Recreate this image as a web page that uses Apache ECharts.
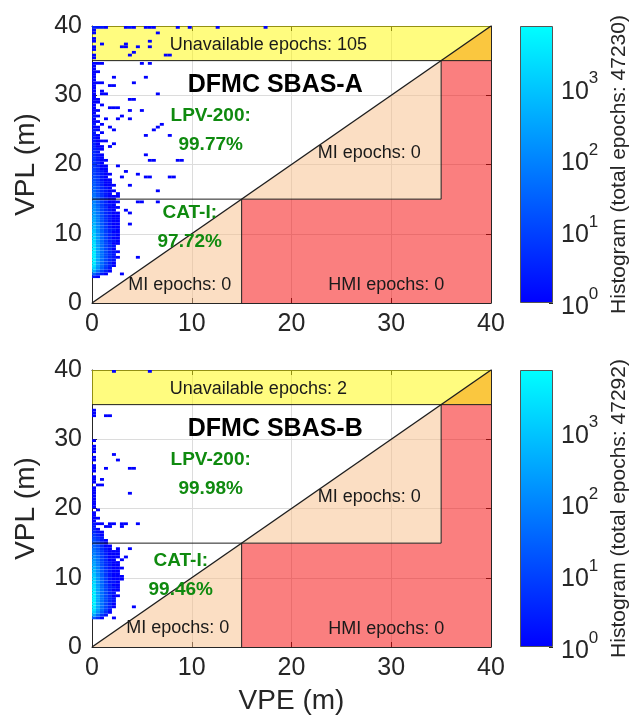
<!DOCTYPE html>
<html><head><meta charset="utf-8">
<script src="https://cdn.jsdelivr.net/npm/echarts@6/dist/echarts.min.js"></script>
<style>html,body{margin:0;padding:0;background:#fff}#c{width:641px;height:724px}</style>
</head><body><div id="c"></div>
<script>
// ---------------- data ----------------
const AXIS_TICKS = [0, 10, 20, 30, 40];
const BIN = 0.4;                 // histogram bin size (m)
const CB_MAX = 3.85;             // log10 of the top of the colour bar
const CB_TICKS = [0, 1, 2, 3];   // 10^0 .. 10^3
const TOTAL_A = 47230, TOTAL_B = 47292;

// rows: [VPL bin lower edge, counts per VPE bin starting at 0]
const ROWS_A = [
 [3.6,[2,1]],[4.0,[30,8,2,1]],[4.4,[380,50,10,3,1]],[4.8,[1400,150,28,6,2]],
 [5.2,[2500,220,40,9,3,1]],[5.6,[3300,270,48,11,3,1]],[6.0,[3800,300,52,12,4,2]],
 [6.4,[4000,310,55,13,4,2,1]],[6.8,[3900,310,55,13,5,2]],[7.2,[3600,300,52,13,4,2,1]],
 [7.6,[3200,280,50,12,4,1]],[8.0,[2700,260,47,12,4,2]],[8.4,[2300,240,44,11,4,1,1]],
 [8.8,[1900,220,41,10,3,2,1]],[9.2,[1550,200,38,10,3,1,1]],[9.6,[1250,180,35,9,3,2,1]],
 [10.0,[1000,160,32,8,3,1,1]],[10.4,[800,140,29,8,3,2,1]],[10.8,[640,125,26,7,2,1,1]],
 [11.2,[510,110,23,6,2,1,1]],[11.6,[410,95,20,6,2,1,1]],[12.0,[330,82,18,5,2,1,1]],
 [12.4,[260,70,16,5,2,1,1]],[12.8,[210,60,14,4,2,1,1]],[13.2,[170,50,12,4,2,1]],
 [13.6,[135,42,10,4,1,1,1]],[14.0,[110,35,9,3,2,1]],[14.4,[88,30,8,3,1,1,1]],
 [14.8,[70,25,7,3,1,1]],[15.2,[56,20,6,2,1,1,1]],[15.6,[45,17,5,2,1,0,1]],
 [16.0,[36,14,4,2,1,1]],[16.4,[29,12,4,2,1]],[16.8,[24,10,3,1,1,1]],[17.2,[19,8,3,1,1]],
 [17.6,[15,7,2,1,1]],[18.0,[12,6,2,1]],[18.4,[10,5,2,1,1]],[18.8,[9,4,2,1]],
 [19.2,[8,4,1,1]],[19.6,[7,3,1,1]],[20.0,[6,3,1]],[20.4,[5,2,1,1]],[20.8,[5,2,1]],
 [21.2,[4,2,1]],[21.6,[4,2]],[22.0,[3,2,1]],[22.4,[3,1,1]],[22.8,[3,1]],[23.2,[2,1,1]],
 [23.6,[2,1]],[24.0,[2,1]],[24.4,[2,0,1]],[24.8,[2,1]],[25.2,[1,1]],[25.6,[2,0,1]],
 [26.0,[1,1]],[26.4,[1]],[26.8,[2,1]],[27.2,[1]],[27.6,[1,1]],[28.0,[1]],[28.4,[1,0,1]],
 [28.8,[1,1]],[29.2,[1,1]],[29.6,[1]],[30.0,[1]],[30.4,[1,0,1]],[30.8,[1]],[31.2,[1]],
 [31.6,[1]],[32.0,[1]],[32.4,[1]],[32.8,[1]],[33.2,[1,1]],[33.6,[1]],[34.0,[1]],
 [34.4,[1,1,1]]
];
// isolated cells: [VPE, VPL, count]
const SCAT_A = [
 [0,39.6,3],[0.4,39.6,2],[0.8,39.6,2],[1.2,39.6,1],[3.2,39.6,1],[3.6,39.6,2],[4.0,39.6,1],
 [5.2,39.6,1],[5.6,39.6,1],[6.0,39.6,1],[8.4,39.6,1],[9.6,39.6,1],[12.4,39.6,1],[17.2,39.6,1],
 [0,39.2,1],[0,38.8,1],[0,38.0,1],[0,37.6,1],[0,36.8,1],[0,36.4,1],[0,35.6,1],[0,35.2,1],
 [0.8,37.2,1],[2.8,36.8,1],[3.2,36.8,1],[3.2,37.2,1],[3.6,35.6,1],[4.0,36.0,1],[4.4,36.8,1],
 [5.6,37.6,1],[5.6,36.8,1],[6.4,38.8,1],[7.2,35.6,1],[7.6,35.6,1],
 [4.8,34.4,1],[5.6,34.4,1],[2.0,32.4,1],[5.2,32.4,1],[0.4,31.6,1],[0.8,31.6,1],[4.0,31.6,1],
 [1.6,31.2,1],[2.0,31.2,1],[0.8,30.0,1],[1.2,30.0,1],[6.4,30.0,1],[3.6,29.2,1],[4.0,29.2,1],
 [1.6,28.0,1],[2.0,28.0,1],[2.4,28.0,1],[3.6,27.6,1],[4.8,27.6,1],[2.8,26.8,1],[1.2,26.4,1],
 [2.4,26.4,1],[3.6,26.4,1],[6.0,24.8,1],[6.4,25.2,1],[6.8,25.6,1],[1.6,25.2,1],[2.0,24.8,1],
 [5.2,24.0,1],[7.6,24.0,1],[1.2,23.2,1],[2.0,22.8,1],[1.6,22.4,1],[5.2,21.2,1],[5.6,20.4,1],
 [6.0,20.4,1],[8.4,20.4,1],[8.8,20.4,1],[2.4,19.6,1],[3.2,18.8,1],[4.4,18.4,1],[2.8,18.0,1],
 [5.2,18.0,1],[5.6,18.0,1],[7.6,18.0,1],[8.0,18.0,1],[3.6,16.8,1],[6.4,16.0,1],[4.4,14.4,1],
 [4.8,14.4,1],[6.4,14.4,1],[3.2,13.2,1],[3.6,12.8,1],[3.6,11.2,1],[4.4,6.4,1],[2.8,4.0,1]
];
const ROWS_B = [
 [4.0,[20,5,1]],[4.4,[300,40,6,2]],[4.8,[1300,160,25,5,1]],[5.2,[2500,260,42,9,2]],
 [5.6,[3500,320,50,11,3,1]],[6.0,[4200,350,56,12,3,1]],[6.4,[4500,360,58,13,4,2]],
 [6.8,[4400,355,58,13,4,2]],[7.2,[4100,340,56,13,4,1,1]],[7.6,[3600,320,53,12,3,2]],
 [8.0,[3100,300,50,11,3,1,1]],[8.4,[2600,275,46,10,3,2,1]],[8.8,[2100,250,42,9,3,1,1]],
 [9.2,[1700,225,38,8,2,2,1]],[9.6,[1350,200,34,8,2,1,1,1]],[10.0,[1050,175,30,7,2,1,1,1]],
 [10.4,[800,150,26,6,2,1,1]],[10.8,[600,125,22,6,2,1,1]],[11.2,[450,105,19,5,2,1,1,1]],
 [11.6,[330,85,16,5,2,1,1]],[12.0,[240,68,14,4,2,1,1]],[12.4,[170,54,12,4,1,1,0,1]],
 [12.8,[120,42,10,3,1,1,1]],[13.2,[85,32,8,3,1,1,1]],[13.6,[60,25,7,2,1,1,1]],
 [14.0,[42,18,5,2,1,0,1]],[14.4,[30,14,4,1,1]],[14.8,[22,10,3,1]],[15.2,[15,7,2,1]],
 [15.6,[10,5,2]],[16.0,[7,3,1]],[16.4,[4,2,1]],[16.8,[3,1]],[17.2,[2,0,0,1,1]],
 [17.6,[2,1,1,0,1,1,0,1,1]],[18.0,[1]],[18.4,[1,1]],[18.8,[1]],[19.2,[1]],[19.6,[0,1]],
 [20.0,[1]],[20.4,[1]],[20.8,[1]],[21.2,[1]],[21.6,[1]],[22.0,[1]],[22.4,[1]],[22.8,[1]],
 [23.2,[0,1,1]],[23.6,[1]],[24.0,[1,0,1]],[24.4,[1]],[25.2,[1]],[25.6,[1]],[26.0,[1]],
 [26.8,[1]],[27.2,[1]],[28.0,[1]],[28.4,[1]],[28.8,[1]],[29.6,[1]],[33.2,[1]],[33.6,[1]],[34.0,[1]]
];
const SCAT_B = [
 [2.0,39.6,1],[5.6,39.6,1],[1.2,33.2,1],[1.6,33.2,1],[2.0,27.6,1],[2.4,26.8,1],[1.2,25.6,1],
 [3.6,25.6,1],[4.0,25.6,1],[3.6,22.0,1],[2.8,17.2,1],[4.4,17.6,1],[2.0,4.0,1],[4.0,5.6,1],
 [3.6,14.0,1],[3.2,12.8,1]
];

// integrity regions (VPE, VPL)
const PATCHES = [
 {pts:[[0,35],[40,35],[40,40],[0,40]], fill:'rgba(255,250,0,0.5)'},
 {pts:[[35,35],[40,40],[40,35]], fill:'rgba(245,145,0,0.5)'},
 {pts:[[15,0],[40,0],[40,35],[35,35],[35,15],[15,15]], fill:'rgba(245,0,0,0.5)'},
 {pts:[[0,0],[15,15],[15,0]], fill:'rgba(248,190,135,0.5)'},
 {pts:[[15,15],[35,35],[35,15]], fill:'rgba(248,190,135,0.5)'}
];
const EDGES = [
 {pts:[[0,35],[40,35]], w:1},
 {pts:[[0,15],[35,15],[35,35]], w:1},
 {pts:[[15,0],[15,15]], w:1},
 {pts:[[0,0],[40,40]], w:1.4}
];
const ANNOT_A = [
 {x:7.8, y:37.3, text:'Unavailable epochs: 105', s:'plain', align:'left'},
 {x:9.6, y:31.4, text:'DFMC SBAS-A', s:'title', align:'left'},
 {x:11.9, y:27.0, text:'LPV-200:', s:'green'},
 {x:11.9, y:22.8, text:'99.77%', s:'green'},
 {x:9.8, y:13.0, text:'CAT-I:', s:'green'},
 {x:9.8, y:8.9, text:'97.72%', s:'green'},
 {x:8.8, y:2.6, text:'MI epochs: 0', s:'plain'},
 {x:27.8, y:21.6, text:'MI epochs: 0', s:'plain'},
 {x:29.5, y:2.6, text:'HMI epochs: 0', s:'plain'}
];
const ANNOT_B = [
 {x:7.8, y:37.3, text:'Unavailable epochs: 2', s:'plain', align:'left'},
 {x:9.6, y:31.4, text:'DFMC SBAS-B', s:'title', align:'left'},
 {x:11.9, y:27.0, text:'LPV-200:', s:'green'},
 {x:11.9, y:22.8, text:'99.98%', s:'green'},
 {x:8.9, y:12.4, text:'CAT-I:', s:'green'},
 {x:8.9, y:8.3, text:'99.46%', s:'green'},
 {x:8.6, y:2.7, text:'MI epochs: 0', s:'plain'},
 {x:27.8, y:21.6, text:'MI epochs: 0', s:'plain'},
 {x:29.5, y:2.6, text:'HMI epochs: 0', s:'plain'}
];

// ---------------- chart ----------------
const FONT = '"Liberation Sans", Arial, Helvetica, sans-serif';
const AXC = '#262626';
const TEXT_STYLES = {
 plain:{size:18, weight:'normal', color:'#1a1a1a'},
 title:{size:25, weight:'bold', color:'#000'},
 green:{size:19, weight:'bold', color:'#0f8a0f'}
};
function cells(rows, scat){
  const out=[];
  rows.forEach(([y,counts])=>counts.forEach((c,k)=>{ if(c>0) out.push([k*BIN, y, Math.log10(c), c]); }));
  scat.forEach(([x,y,c])=>out.push([x,y,Math.log10(c),c]));
  return out;
}
const GRIDS = [
 {left:92, top:26, width:399, height:277},
 {left:92, top:370, width:399, height:277},
 {left:520, top:26, width:33, height:277},
 {left:520, top:370, width:33, height:277}
];
function mainX(gi, pos, withLabels, name){
  return {type:'value', gridIndex:gi, position:pos, min:AXIS_TICKS[0], max:AXIS_TICKS[AXIS_TICKS.length-1],
    interval:AXIS_TICKS[1]-AXIS_TICKS[0],
    axisLine:{show:true, onZero:false, lineStyle:{color:AXC, width:1}},
    axisTick:{show:true, inside:true, length:5, lineStyle:{color:AXC}},
    axisLabel:{show:withLabels, color:AXC, fontSize:25, fontFamily:FONT, margin:9},
    splitLine:{show:withLabels, lineStyle:{color:'#dcdcdc', width:1}},
    name: name||'', nameLocation:'middle', nameGap:40,
    nameTextStyle:{color:AXC, fontSize:28, fontFamily:FONT}};
}
function mainY(gi, pos, withLabels){
  const a = mainX(gi, pos, withLabels, withLabels ? 'VPL (m)' : '');
  a.nameGap = 52; a.nameRotate = 90;
  a.axisLabel.margin = 10;
  return a;
}
function cbY(gi, total){
  return {type:'value', gridIndex:gi, position:'right', min:0, max:CB_MAX,
    axisLine:{show:false},
    axisTick:{show:true, inside:true, length:4, customValues:CB_TICKS, lineStyle:{color:AXC}},
    axisLabel:{show:true, customValues:CB_TICKS, margin:8, color:AXC,
      formatter:v=>'{b|10}{s|'+v+'}',
      rich:{b:{fontSize:25, fontFamily:FONT, color:AXC, lineHeight:34, verticalAlign:'bottom'},
            s:{fontSize:17, fontFamily:FONT, color:AXC, lineHeight:17, verticalAlign:'top'}}},
    splitLine:{show:false},
    name:'Histogram (total epochs: '+total+')', nameLocation:'middle', nameRotate:90, nameGap:56,
    nameTextStyle:{color:AXC, fontSize:21, fontFamily:FONT}};
}
function patchSeries(xi, yi){
  return {type:'custom', xAxisIndex:xi, yAxisIndex:yi, z:1, silent:true,
    data:PATCHES.map((p,i)=>[p.pts[0][0], p.pts[0][1], i]),
    renderItem:(params, api)=>{
      const p = PATCHES[api.value(2)];
      return {type:'polygon', shape:{points:p.pts.map(q=>api.coord(q))}, style:{fill:p.fill}};
    }};
}
function edgeSeries(xi, yi){
  return {type:'custom', xAxisIndex:xi, yAxisIndex:yi, z:4, silent:true,
    data:EDGES.map((e,i)=>[e.pts[0][0], e.pts[0][1], i]),
    renderItem:(params, api)=>{
      const e = EDGES[api.value(2)];
      return {type:'polyline', shape:{points:e.pts.map(q=>api.coord(q))}, style:{stroke:'#1e1e1e', lineWidth:e.w, fill:null}};
    }};
}
function heatSeries(xi, yi, data){
  return {type:'custom', xAxisIndex:xi, yAxisIndex:yi, z:3, silent:true, data:data,
    encode:{x:0, y:1},
    renderItem:(params, api)=>{
      const x = api.value(0), y = api.value(1);
      const a = api.coord([x, y+BIN]), b = api.coord([x+BIN, y]);
      return {type:'rect', shape:{x:a[0], y:a[1], width:b[0]-a[0], height:b[1]-a[1]},
              style:{fill:api.visual('color')}};
    }};
}
function textSeries(xi, yi, list){
  return {type:'custom', xAxisIndex:xi, yAxisIndex:yi, z:6, silent:true, clip:false,
    data:list.map((a,i)=>[a.x, a.y, i]),
    renderItem:(params, api)=>{
      const a = list[api.value(2)];
      const st = TEXT_STYLES[a.s];
      const p = api.coord([a.x, a.y]);
      return {type:'text', x:p[0], y:p[1], style:{text:a.text, fill:st.color, fontSize:st.size,
        fontWeight:st.weight, fontFamily:FONT, align:a.align||'center', verticalAlign:'middle'}};
    }};
}
function cbSeries(xi, yi){
  return {type:'bar', xAxisIndex:xi, yAxisIndex:yi, data:[CB_MAX], barWidth:'100%', silent:true,
    itemStyle:{borderColor:'#555', borderWidth:1,
      color:new echarts.graphic.LinearGradient(0,1,0,0,[{offset:0,color:'#0000ff'},{offset:1,color:'#00ffff'}])}};
}

const chart = echarts.init(document.getElementById('c'), null, {renderer:'canvas'});
chart.setOption({
  animation:false,
  backgroundColor:'#fff',
  grid:GRIDS,
  xAxis:[
    mainX(0,'bottom',true,''), mainX(0,'top',false,''),
    mainX(1,'bottom',true,'VPE (m)'), mainX(1,'top',false,''),
    {type:'category', gridIndex:2, data:['cb'], show:false},
    {type:'category', gridIndex:3, data:['cb'], show:false}
  ],
  yAxis:[
    mainY(0,'left',true), mainY(0,'right',false),
    mainY(1,'left',true), mainY(1,'right',false),
    cbY(2, TOTAL_A), cbY(3, TOTAL_B)
  ],
  visualMap:{type:'continuous', show:false, dimension:2, min:0, max:CB_MAX, seriesIndex:[1,5],
    inRange:{color:['#0000ff','#00ffff']}},
  series:[
    patchSeries(0,0), heatSeries(0,0,cells(ROWS_A,SCAT_A)), edgeSeries(0,0), textSeries(0,0,ANNOT_A),
    patchSeries(2,2), heatSeries(2,2,cells(ROWS_B,SCAT_B)), edgeSeries(2,2), textSeries(2,2,ANNOT_B),
    cbSeries(4,4), cbSeries(5,5)
  ]
});
</script></body></html>
